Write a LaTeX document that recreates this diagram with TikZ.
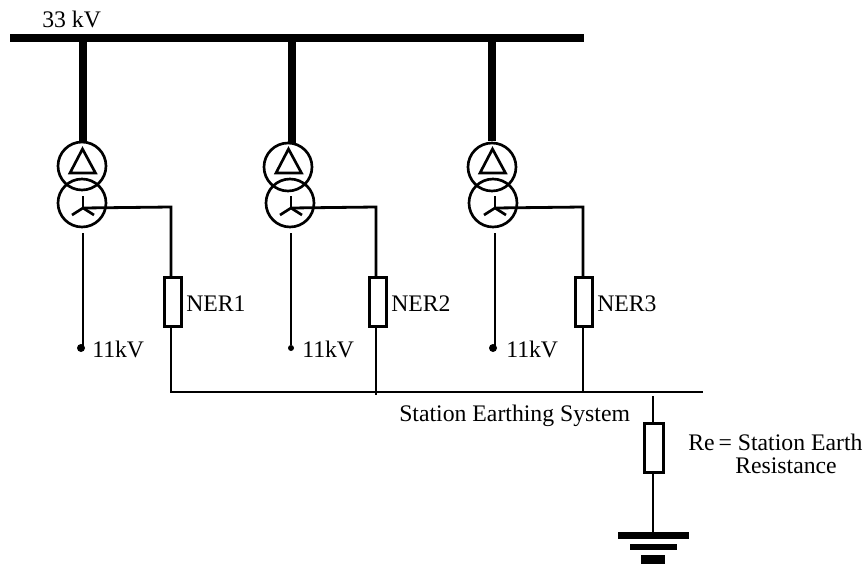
\documentclass[tikz,border=0pt]{standalone}
\usepackage{fontspec}
\setmainfont{Liberation Serif}
\tikzset{
  x=0.75pt,y=-0.75pt,
  wire/.style={line width=2.1pt,line cap=butt,line join=miter},
  winding/.style={circle,draw,line width=2pt,minimum size=36pt,inner sep=0pt},
  resbox/.style={rectangle,draw,line width=2.1pt,minimum width=13pt,minimum height=37pt,inner sep=0pt},
  lbl/.style={inner sep=0pt,anchor=base west,font=\fontsize{17.8}{20}\selectfont},
  dotnode/.style={circle,fill=black,inner sep=0pt},
  glyph/.style={line width=2pt,line join=miter}
}
\begin{document}
\begin{tikzpicture}
\useasboundingbox (0,0) rectangle (868,564);
% busbar
\coordinate (busL) at (10,38);
\coordinate (busR) at (584,38);
\draw[line width=6pt] (busL) -- (busR);
\node[lbl] (hv) at (42,27) {33 kV};
% transformers
\foreach \n/\dx/\dy/\yx/\sx/\sb/\lx/\rx/\rr/\dr/\ft/\dotx/\kvx in {1/82/166/82/83/143/83/171/173/4/392/81/92,2/288/167/290/292/144/291/376/378/3/395/291/302,3/492/167/493/492/141/495/583/584/4/392/493/506}{
  \node[winding] (d\n) at (\dx,\dy) {};
  \node[winding] (y\n) at (\yx,203) {};
  \coordinate (stemtop\n) at (\sx,38);
  \coordinate (stembot\n) at (\sx,\sb);
  \draw[line width=6pt] (stemtop\n) -- (stembot\n);
  % delta
  \draw[glyph] (\dx+0.5,149) -- (\dx+13.5,173) -- (\dx-12,173) -- cycle;
  % star
  \coordinate (c\n) at (\lx,208);
  \draw[glyph] (c\n) -- ++(0,-12);
  \draw[glyph] (c\n) -- ++(-11,7);
  \draw[glyph] (c\n) -- ++(11,7);
  % lv lead
  \coordinate (lvtop\n) at (\lx,233);
  \coordinate (lvbot\n) at (\lx,345);
  \node[dotnode,minimum size=\dr*1.5pt] (dot\n) at (\dotx,348) {};
  \draw[wire] (lvtop\n) -- (lvbot\n);
  \node[lbl] (kv\n) at (\kvx,357) {11kV};
  % NER
  \node[resbox] (r\n) at (\rr,302) {};
  \coordinate (cor\n) at (\rx,207);
  \coordinate (foot\n) at (\rx,\ft);
  \draw[wire] (c\n) -- (cor\n) -- (r\n.north -| cor\n);
  \draw[wire] (r\n.south -| cor\n) -- (foot\n);
  \node[lbl] (ner\n) at (\rr+13,311) {NER\n};
}
% earth bus
\coordinate (ebL) at (170,392);
\coordinate (ebR) at (703,392);
\draw[wire] (ebL) -- (ebR);
\node[lbl] (sys) at (399,421) {Station Earthing System};
\coordinate (estem) at (653,396);
\node[resbox,minimum width=14.6pt] (re) at (654,448) {};
\coordinate (g1) at (653,533);
\draw[wire] (estem) -- (re.north -| estem);
\draw[wire] (re.south -| estem) -- (g1);
\fill (618,532) rectangle (689,539);
\fill (630,544) rectangle (677,550);
\fill (641,555) rectangle (665,564);
\node[lbl] (retxt) at (688,450) {Re\,= Station Earth};
\node[lbl] (retxt2) at (735,473) {Resistance};
\end{tikzpicture}
\end{document}
